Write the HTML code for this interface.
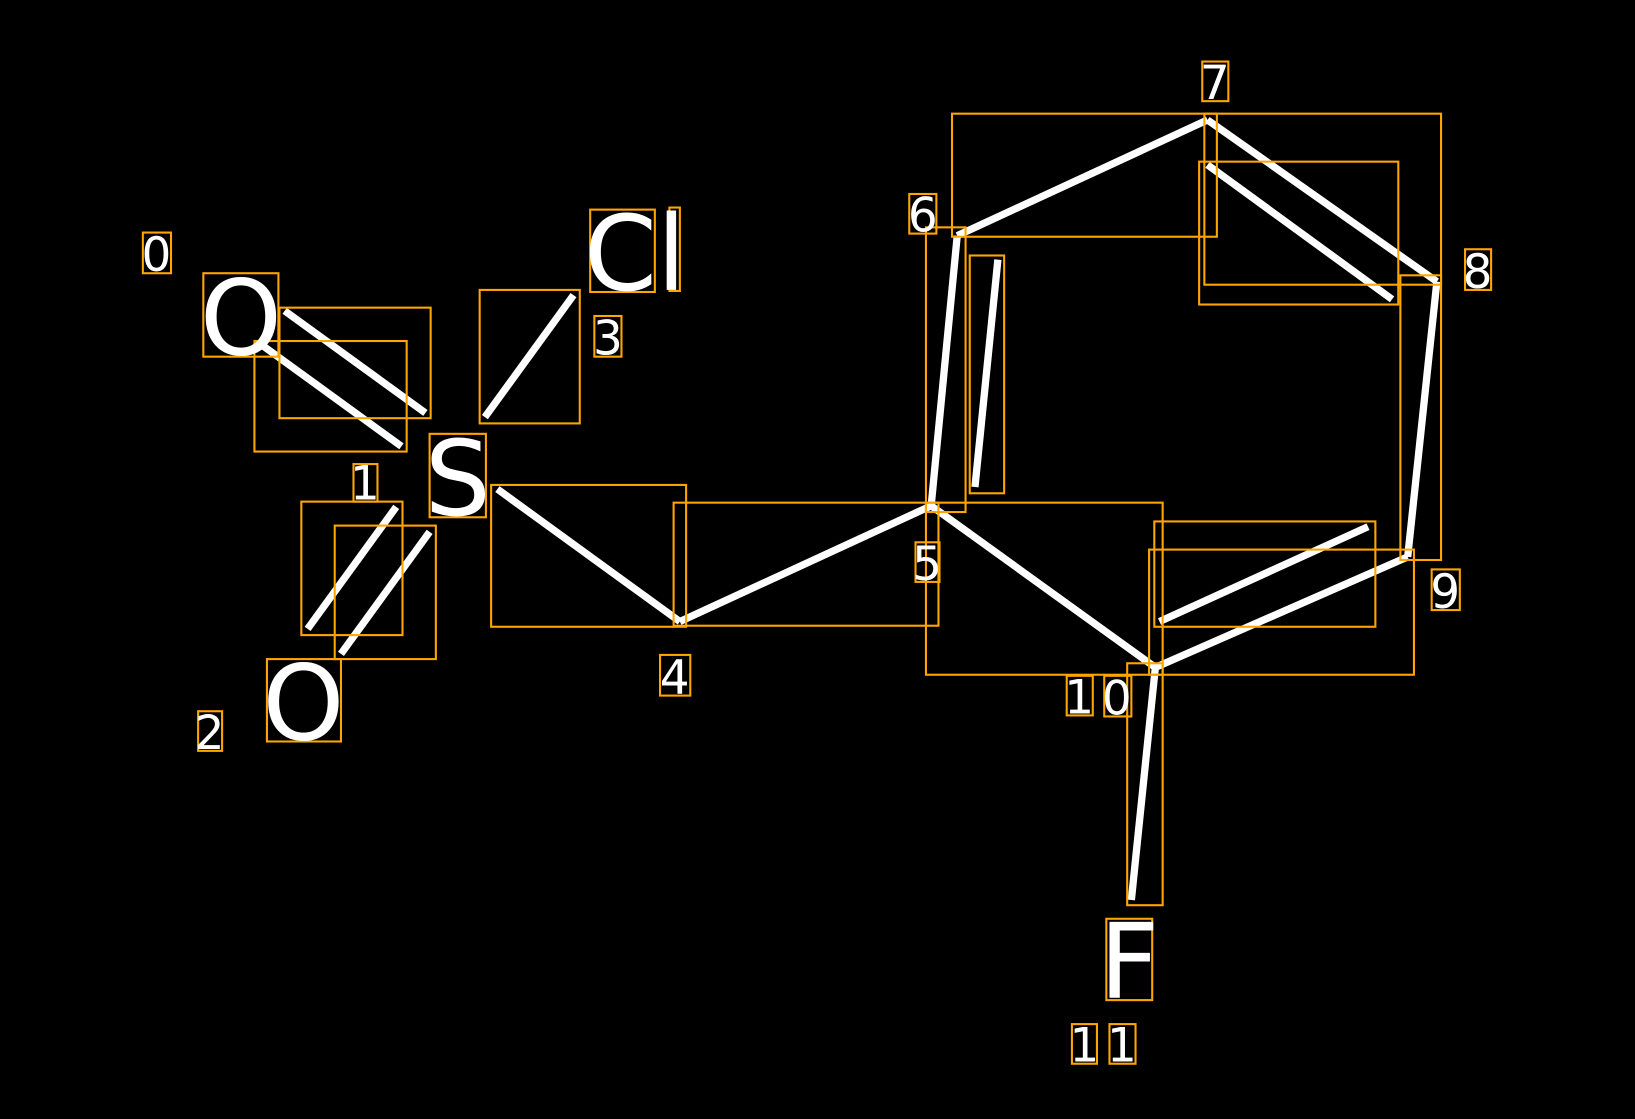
<!DOCTYPE html>
<html><head><meta charset="utf-8"><style>
html,body{margin:0;padding:0;background:#000;overflow:hidden}
svg{display:block}
</style></head><body>
<svg width="1635" height="1119" viewBox="0 0 1568 1073" preserveAspectRatio="none" xmlns="http://www.w3.org/2000/svg">
<rect x="0" y="0" width="1568" height="1073" fill="#000"/>
<g stroke="#fff" stroke-width="7" fill="none">
<line x1="273" y1="298" x2="408" y2="396"/>
<line x1="250" y1="330" x2="385" y2="428"/>
<line x1="465" y1="400" x2="550" y2="283"/>
<line x1="477" y1="469" x2="652" y2="596"/>
<line x1="652" y1="596" x2="893" y2="485"/>
<line x1="893" y1="485" x2="918" y2="226"/>
<line x1="935" y1="467" x2="957" y2="249"/>
<line x1="918" y1="226" x2="1158" y2="115"/>
<line x1="1158" y1="115" x2="1378" y2="270"/>
<line x1="1158" y1="158" x2="1335" y2="287"/>
<line x1="1378" y1="270" x2="1350" y2="534"/>
<line x1="1350" y1="534" x2="1108" y2="640"/>
<line x1="1112" y1="596" x2="1312" y2="505"/>
<line x1="1108" y1="640" x2="893" y2="485"/>
<line x1="1108" y1="640" x2="1085" y2="863"/>
<line x1="295" y1="603" x2="380" y2="486"/>
<line x1="327" y1="627" x2="412" y2="510"/>
</g>
<g stroke="#FFA500" stroke-width="2" fill="none">
<rect x="137" y="223" width="27" height="39"/>
<rect x="195" y="262" width="72" height="80"/>
<rect x="268" y="295" width="145" height="106"/>
<rect x="244" y="327" width="146" height="106"/>
<rect x="339" y="445" width="23" height="36"/>
<rect x="289" y="481" width="97" height="128"/>
<rect x="321" y="504" width="97" height="128"/>
<rect x="412" y="416" width="54" height="80"/>
<rect x="460" y="278" width="96" height="128"/>
<rect x="566" y="201" width="62" height="79"/>
<rect x="642" y="199" width="10" height="80"/>
<rect x="570" y="303" width="26" height="39"/>
<rect x="471" y="465" width="187" height="136"/>
<rect x="646" y="482" width="254" height="118"/>
<rect x="633" y="628" width="29" height="39"/>
<rect x="256" y="632" width="71" height="79"/>
<rect x="190" y="682" width="23" height="38"/>
<rect x="872" y="186" width="26" height="38"/>
<rect x="888" y="218" width="38" height="273"/>
<rect x="930" y="245" width="33" height="228"/>
<rect x="913" y="109" width="254" height="118"/>
<rect x="1153" y="59" width="25" height="38"/>
<rect x="1155" y="109" width="227" height="164"/>
<rect x="1150" y="155" width="191" height="137"/>
<rect x="1405" y="239" width="25" height="39"/>
<rect x="1343" y="264" width="39" height="273"/>
<rect x="1373" y="546" width="27" height="39"/>
<rect x="878" y="520" width="23" height="38"/>
<rect x="888" y="482" width="227" height="165"/>
<rect x="1107" y="500" width="212" height="101"/>
<rect x="1102" y="527" width="254" height="120"/>
<rect x="1023" y="648" width="25" height="38"/>
<rect x="1059" y="648" width="26" height="39"/>
<rect x="1081" y="636" width="34" height="232"/>
<rect x="1061" y="881" width="44" height="78"/>
<rect x="1028" y="982" width="24" height="38"/>
<rect x="1064" y="982" width="25" height="38"/>
</g>
<g fill="#fff" font-family="DejaVu Sans, Liberation Sans, sans-serif" text-anchor="middle">
<text x="231" y="340" font-size="100">O</text>
<text x="439" y="494" font-size="100">S</text>
<text x="609" y="278" font-size="100">Cl</text>
<text x="291" y="709" font-size="100">O</text>
<text x="1083" y="957" font-size="100">F</text>
<g font-size="45">
<text x="150" y="260">0</text>
<text x="350" y="479">1</text>
<text x="201" y="718">2</text>
<text x="583" y="340">3</text>
<text x="647" y="665">4</text>
<text x="889" y="556">5</text>
<text x="885" y="222">6</text>
<text x="1165" y="95">7</text>
<text x="1417" y="276">8</text>
<text x="1386" y="583">9</text>
<text x="1035" y="684">1</text>
<text x="1071" y="685">0</text>
<text x="1040" y="1018">1</text>
<text x="1076" y="1018">1</text>
</g>
</g>
</svg>
</body></html>
